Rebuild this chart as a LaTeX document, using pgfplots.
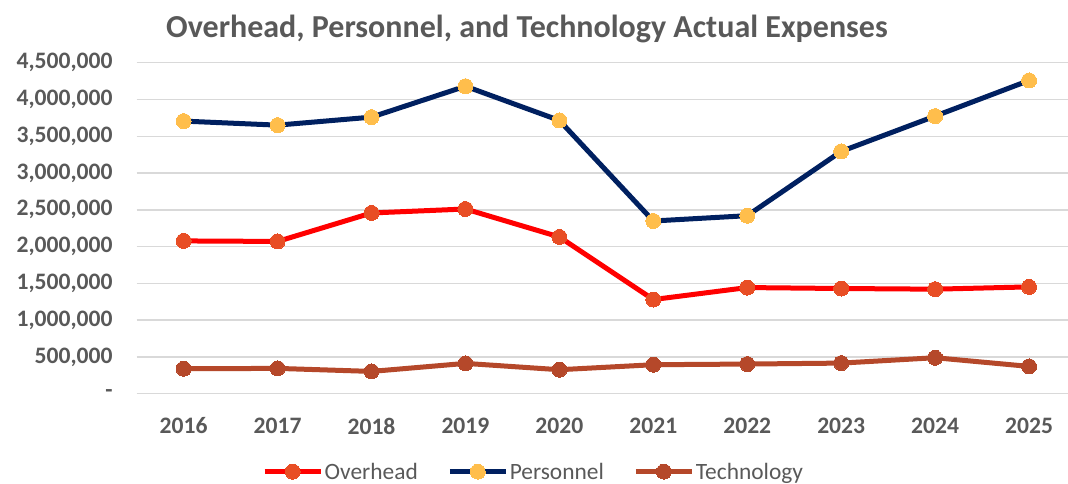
\documentclass[border=0pt]{standalone}
\usepackage{pgfplots}
\pgfplotsset{compat=1.18}
\usepackage{fontspec}
\setmainfont{Carlito}
\definecolor{txtgrey}{HTML}{595959}
\definecolor{gridgrey}{HTML}{D9D9D9}
\definecolor{ohline}{HTML}{FF0000}
\definecolor{ohmark}{HTML}{E84E25}
\definecolor{peline}{HTML}{002060}
\definecolor{pemark}{HTML}{FFBE4C}
\definecolor{teline}{HTML}{B5482A}
\begin{document}
\begin{tikzpicture}
\path[use as bounding box] (-136.7pt,-90.3pt) rectangle (931.3pt,393.7pt);
\begin{axis}[
  at={(0pt,0pt)}, anchor=south west,
  scale only axis,
  width=939.3pt, height=331pt,
  xmin=-0.5, xmax=9.5,
  ymin=0, ymax=4500000,
  axis line style={draw=none},
  major tick length=0,
  xtick={0,...,9},
  xticklabels={2016,2017,2018,2019,2020,2021,2022,2023,2024,2025},
  ytick={0,500000,1000000,1500000,2000000,2500000,3000000,3500000,4000000,4500000},
  yticklabels={{-},{500,000},{1,000,000},{1,500,000},{2,000,000},{2,500,000},{3,000,000},{3,500,000},{4,000,000},{4,500,000}},
  scaled y ticks=false,
  ymajorgrids,
  grid style={gridgrey, line width=1.5pt},
  tick label style={font=\fontsize{23.6}{28}\selectfont\bfseries, text=txtgrey},
  xticklabel style={yshift=-20.5pt},
  yticklabel style={xshift=-20.6pt},
  title={Overhead, Personnel, and Technology Actual Expenses},
  title style={font=\fontsize{32}{38}\selectfont\bfseries, text=txtgrey, at={(rel axis cs:0.4155,1)}, anchor=south, yshift=10pt},
  legend style={draw=none, fill=none, at={(rel axis cs:0.4223,-0.2355)}, anchor=center, legend columns=3,
    font=\fontsize{23.4}{28}\selectfont, text=txtgrey,
    nodes={inner sep=1.5pt},
    /tikz/every even column/.append style={column sep=28pt}},
  legend image code/.code={\draw[mark repeat=2,mark phase=2,#1] plot coordinates {(0pt,0pt) (28pt,0pt) (56pt,0pt)};},
  every axis plot/.append style={line width=5pt},
]
\addplot[ohline, mark=*, mark size=7.5pt, mark options={fill=ohmark, draw=ohmark, line width=0pt}] coordinates {
(0,2077000) (1,2070000) (2,2457000) (3,2511000) (4,2131000) (5,1280000) (6,1443000) (7,1430000) (8,1421000) (9,1452000)};
\addlegendentry{Overhead}
\addplot[peline, mark=*, mark size=7.5pt, mark options={fill=pemark, draw=pemark, line width=0pt}] coordinates {
(0,3706000) (1,3651000) (2,3760000) (3,4180000) (4,3715000) (5,2348000) (6,2420000) (7,3294000) (8,3774000) (9,4258000)};
\addlegendentry{Personnel}
\addplot[teline, mark=*, mark size=7.5pt, mark options={fill=teline, draw=teline, line width=0pt}] coordinates {
(0,339000) (1,344000) (2,303000) (3,412000) (4,326000) (5,394000) (6,403000) (7,416000) (8,489000) (9,371000)};
\addlegendentry{Technology}
\end{axis}
\end{tikzpicture}
\end{document}
